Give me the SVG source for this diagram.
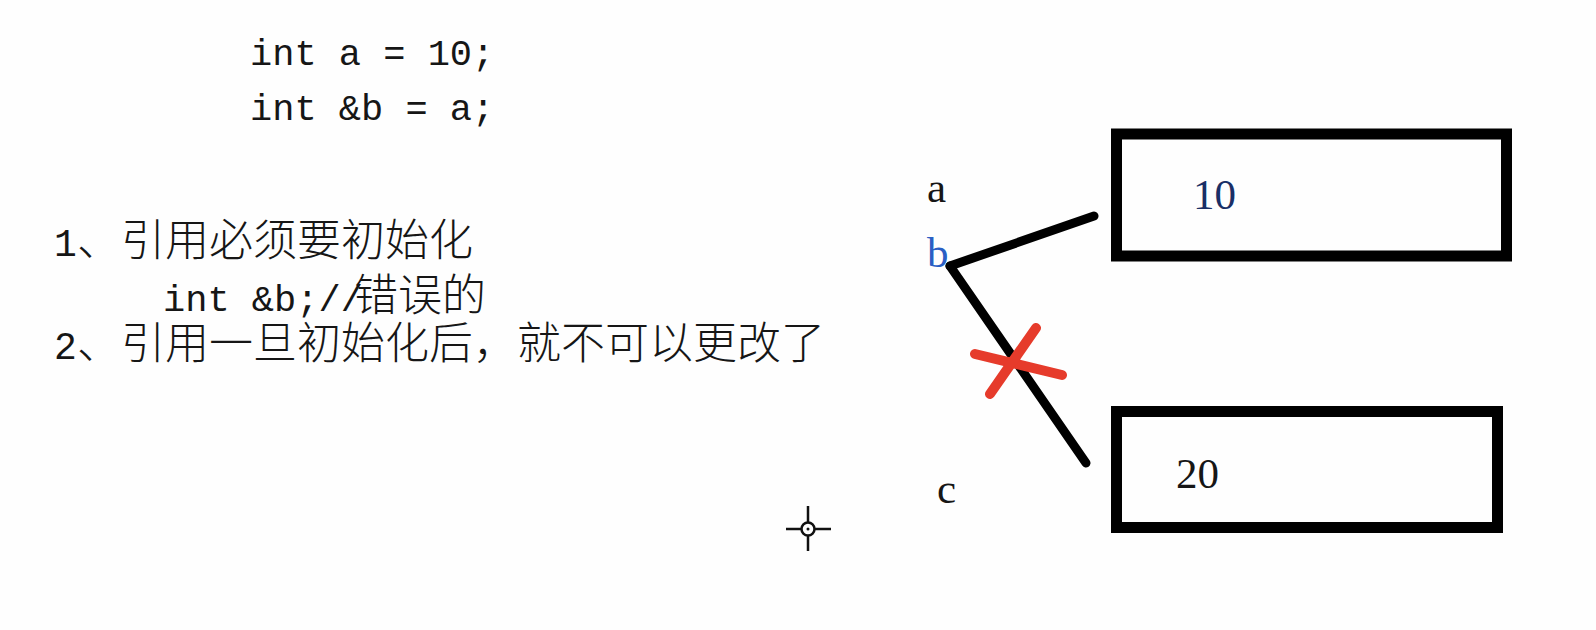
<svg xmlns="http://www.w3.org/2000/svg" width="1596" height="630" viewBox="0 0 1596 630">
<style>
.mono{font-family:"Liberation Mono","DejaVu Sans Mono",monospace;font-size:37px;fill:#161616}
.num{font-family:"Liberation Mono","DejaVu Sans Mono",monospace;font-size:38px;fill:#161616}
.cjk{font-family:"Noto Sans CJK SC","Noto Sans CJK JP",sans-serif;font-size:44px;fill:#161616;font-weight:300}
.ser{font-family:"Liberation Serif","Times New Roman",serif;font-size:43px;fill:#161616}
.box{fill:none;stroke:#000;stroke-width:11}
.conn{fill:none;stroke:#000;stroke-width:9;stroke-linecap:round;stroke-linejoin:round}
.cross{fill:none;stroke:#e63b2b;stroke-width:10;stroke-linecap:round}
</style>
<rect width="1596" height="630" fill="#fefefe"/>
<g id="code">
<text class="mono" x="250" y="65" xml:space="preserve">int a = 10;</text>
<text class="mono" x="250" y="120" xml:space="preserve">int &amp;b = a;</text>
</g>
<g id="notes">
<text class="num" x="54" y="256">1</text>
<text class="cjk" x="77" y="256">、引用必须要初始化</text>
<text class="mono" x="163" y="311">int &amp;b;//</text>
<text class="cjk" x="354" y="311">错误的</text>
<text class="num" x="54" y="359">2</text>
<text class="cjk" x="77" y="359">、引用一旦初始化后，就不可以更改了</text>
</g>
<g id="label-a"><text class="ser" x="927" y="202">a</text></g>
<g id="label-b"><text class="ser" x="927" y="267" style="fill:#2a5fc4">b</text></g>
<g id="label-c"><text class="ser" x="937" y="503">c</text></g>
<g id="box-10">
<rect class="box" x="1116.5" y="134" width="390" height="122"/>
<text class="ser" x="1193" y="209" style="fill:#1a2f66">10</text>
</g>
<g id="box-20">
<rect class="box" x="1116.5" y="411.5" width="381" height="116"/>
<text class="ser" x="1176" y="488">20</text>
</g>
<g id="connectors">
<polyline class="conn" points="1094,216 950,266"/>
<polyline class="conn" points="950,266 1086,463"/>
<line class="cross" x1="975" y1="354" x2="1062" y2="375"/>
<line class="cross" x1="1036" y1="328" x2="990" y2="394"/>
</g>
<g id="cursor" stroke="#111" stroke-width="2.5" fill="none">
<line x1="808" y1="506" x2="808" y2="522"/>
<line x1="808" y1="536" x2="808" y2="551"/>
<line x1="786" y1="529" x2="801" y2="529"/>
<line x1="815" y1="529" x2="831" y2="529"/>
<circle cx="808" cy="529" r="6.5" fill="#fff"/>
<circle cx="808" cy="529" r="1.5" fill="#111" stroke="none"/>
</g>
</svg>
